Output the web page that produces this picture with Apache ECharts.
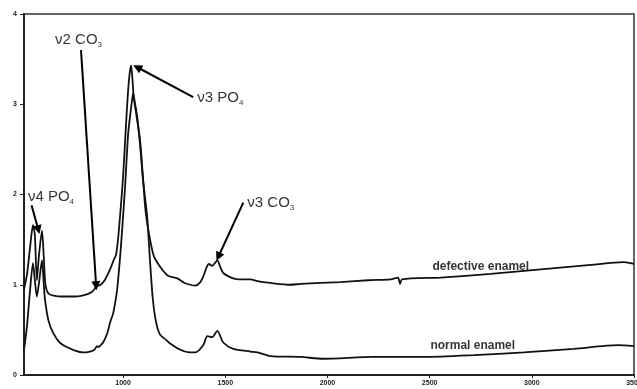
<!DOCTYPE html>
<html><head><meta charset="utf-8">
<script src="https://cdn.jsdelivr.net/npm/echarts@6/dist/echarts.min.js"></script>
<style>html,body{margin:0;padding:0;background:#fff}#c{width:637px;height:389px}</style>
</head><body><div id="c"></div>
<script>
// wavenumber (cm-1), absorbance
const defective = [[515,0.95],[530,1.12],[545,1.42],[559,1.66],[568,1.55],[578,1.05],[588,1.32],[603,1.6],[612,1.3],[620,1.0],[635,0.9],[660,0.88],[700,0.87],[760,0.87],[800,0.88],[840,0.91],[860,0.95],[873,1.0],[880,0.99],[890,1.0],[910,1.05],[936,1.17],[955,1.28],[965,1.33],[975,1.5],[990,1.9],[1000,2.2],[1010,2.6],[1020,3.0],[1030,3.3],[1039,3.43],[1045,3.3],[1052,3.08],[1065,2.88],[1083,2.6],[1098,2.16],[1108,1.86],[1120,1.65],[1132,1.5],[1150,1.32],[1181,1.2],[1220,1.1],[1265,1.07],[1300,1.02],[1328,1.0],[1353,0.99],[1375,1.02],[1392,1.09],[1410,1.2],[1420,1.23],[1436,1.21],[1461,1.27],[1475,1.2],[1490,1.13],[1539,1.07],[1570,1.06],[1623,1.06],[1657,1.04],[1721,1.02],[1819,1.0],[1868,1.01],[2064,1.03],[2200,1.05],[2309,1.06],[2345,1.08],[2355,1.01],[2365,1.06],[2554,1.08],[2799,1.12],[3044,1.17],[3289,1.22],[3451,1.25],[3500,1.23]];
const normal = [[515,0.28],[530,0.55],[545,0.95],[559,1.24],[568,1.05],[578,0.87],[590,1.05],[603,1.27],[612,1.0],[618,0.83],[635,0.6],[657,0.47],[690,0.36],[725,0.31],[765,0.27],[804,0.25],[838,0.26],[860,0.28],[873,0.32],[880,0.31],[890,0.33],[902,0.36],[922,0.46],[936,0.58],[951,0.68],[961,0.8],[971,0.95],[985,1.3],[995,1.6],[1010,2.1],[1025,2.68],[1044,3.05],[1049,3.12],[1055,3.05],[1069,2.86],[1083,2.55],[1098,2.15],[1118,1.75],[1132,1.25],[1145,0.85],[1160,0.6],[1180,0.45],[1210,0.39],[1230,0.35],[1280,0.28],[1328,0.25],[1353,0.25],[1392,0.33],[1412,0.43],[1436,0.42],[1461,0.49],[1490,0.36],[1539,0.29],[1623,0.26],[1657,0.25],[1721,0.21],[1868,0.2],[1980,0.18],[2226,0.2],[2471,0.2],[2716,0.22],[2961,0.25],[3206,0.29],[3422,0.33],[3500,0.32]];
const xTicks = [1000,1500,2000,2500,3000,3500];
const yTicks = [0,1,2,3,4];
// annotation labels: [x, y, rich text]
const labels = [
  [534,1.97,'{m|ν4 PO}{s|4}'],
  [667,3.71,'{m|ν2 CO}{s|3}'],
  [1363,3.07,'{m|ν3 PO}{s|4}'],
  [1608,1.91,'{m|ν3 CO}{s|3}']
];
const arrows = [
  [[552,1.88],[585,1.61]],
  [[794,3.60],[868,0.99]],
  [[1343,3.08],[1069,3.41]],
  [[1588,1.91],[1466,1.31]]
];
const curveLabels = [[2750,1.20,'defective enamel'],[2711,0.33,'normal enamel']];

const chart = echarts.init(document.getElementById('c'));
const ff = 'Liberation Sans, Arial, sans-serif';
chart.setOption({
  animation:false,
  grid:{left:24,right:3,top:14,bottom:14,outerBoundsMode:'none',containLabel:false,show:true,borderColor:'#333',borderWidth:1.5},
  xAxis:{type:'value',min:515,max:3500,
    axisLine:{show:true,lineStyle:{color:'#222',width:2}},
    axisTick:{show:true,customValues:xTicks,length:3,lineStyle:{color:'#222'}},
    axisLabel:{customValues:xTicks,formatter:v=>String(v),fontSize:7,fontWeight:'bold',color:'#222',fontFamily:ff,margin:5},
    splitLine:{show:false}},
  yAxis:{type:'value',min:0,max:4,interval:1,
    axisLine:{show:true,lineStyle:{color:'#222',width:2}},
    axisTick:{show:true,length:4,lineStyle:{color:'#222'}},
    axisLabel:{formatter:v=>String(v),fontSize:7,fontWeight:'bold',color:'#222',fontFamily:ff,margin:7},
    splitLine:{show:false}},
  series:[
    {type:'line',data:defective,showSymbol:false,smooth:0.25,lineStyle:{color:'#111',width:1.8}},
    {type:'line',data:normal,showSymbol:false,smooth:0.25,lineStyle:{color:'#111',width:1.8}},
    {type:'scatter',data:labels.map(l=>({value:[l[0],l[1]],label:{formatter:l[2]}})),symbolSize:0,
      label:{show:true,position:[0,0],align:'left',verticalAlign:'middle',
        rich:{m:{fontSize:15,fontFamily:ff,color:'#000',lineHeight:18,verticalAlign:'middle'},
              s:{fontSize:8,fontFamily:ff,color:'#000',lineHeight:18,verticalAlign:'bottom'}}}},
    {type:'line',data:[],showSymbol:false,
      markLine:{silent:true,symbol:['none','triangle'],symbolSize:9,symbolRotate:null,
        lineStyle:{color:'#000',width:2,type:'solid'},itemStyle:{color:'#000'},label:{show:false},
        data:arrows.map(a=>[{coord:a[0]},{coord:a[1]}])}},
    {type:'scatter',data:curveLabels.map(l=>({value:[l[0],l[1]],label:{formatter:l[2]}})),symbolSize:0,
      label:{show:true,position:[0,0],align:'center',verticalAlign:'middle',fontSize:12,fontWeight:'bold',fontFamily:ff,color:'#000'}}
  ]
});
</script></body></html>
